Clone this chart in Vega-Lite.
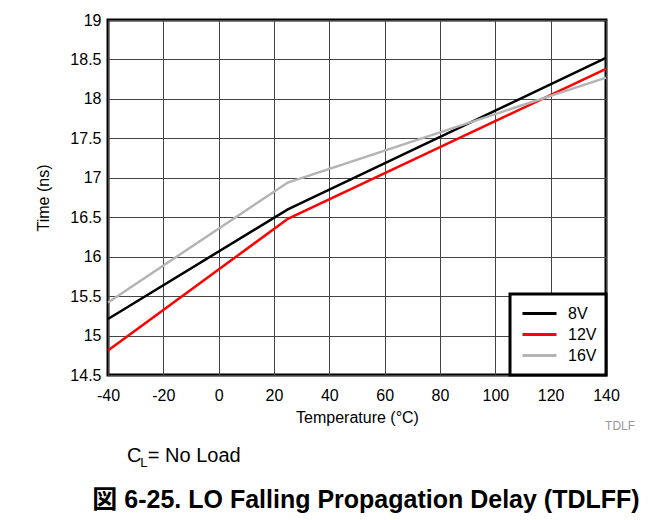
{
  "$schema": "https://vega.github.io/schema/vega-lite/v6.json",
  "width": 498,
  "height": 355,
  "autosize": {"type": "none"},
  "padding": {"left": 108, "top": 20, "right": 58, "bottom": 145},
  "background": "white",
  "title": {
    "text": "図 6-25. LO Falling Propagation Delay (TDLFF)",
    "orient": "bottom",
    "anchor": "middle",
    "dx": 9,
    "offset": 18,
    "font": "Liberation Sans, Noto Sans CJK JP",
    "fontSize": 25,
    "fontWeight": "bold",
    "color": "black"
  },
  "datasets": {
    "curves": [
      {"temp": -40, "time": 15.21, "v": "8V"},
      {"temp": 25, "time": 16.6, "v": "8V"},
      {"temp": 140, "time": 18.52, "v": "8V"},
      {"temp": -40, "time": 14.81, "v": "12V"},
      {"temp": 25, "time": 16.48, "v": "12V"},
      {"temp": 140, "time": 18.38, "v": "12V"},
      {"temp": -40, "time": 15.42, "v": "16V"},
      {"temp": 25, "time": 16.94, "v": "16V"},
      {"temp": 140, "time": 18.27, "v": "16V"}
    ],
    "notes": [
      {"temp": -33.1, "time": 13.397, "label": "C", "kind": "main"},
      {"temp": -25.6, "time": 13.397, "label": "= No Load", "kind": "main"},
      {"temp": -28.3, "time": 13.33, "label": "L", "kind": "sub"}
    ]
  },
  "layer": [
    {
      "data": {"name": "curves"},
      "mark": {"type": "line", "strokeWidth": 2.5},
      "encoding": {
        "x": {
          "field": "temp",
          "type": "quantitative",
          "scale": {"domain": [-40, 140], "nice": false},
          "axis": {"values": [-40, -20, 0, 20, 40, 60, 80, 100, 120, 140], "tickCount": 20, "title": "Temperature (°C)", "labelOverlap": false, "labelExpr": "replace(datum.label, '−', '-')"}
        },
        "y": {
          "field": "time",
          "type": "quantitative",
          "scale": {"domain": [14.5, 19], "nice": false, "zero": false},
          "axis": {"values": [14.5, 15, 15.5, 16, 16.5, 17, 17.5, 18, 18.5, 19], "tickCount": 20, "labelOverlap": false, "labelExpr": "datum.value % 1 == 0 ? format(datum.value, 'd') : format(datum.value, '.1f')", "title": "Time (ns)"}
        },
        "color": {
          "field": "v",
          "type": "nominal",
          "scale": {"domain": ["8V", "12V", "16V"], "range": ["#000000", "#ff0000", "#b4b4b4"]},
          "legend": {
            "title": null,
            "orient": "bottom-right",
            "offset": 0,
            "padding": 9,
            "fillColor": "white",
            "strokeColor": "black",
            "symbolType": "stroke",
            "symbolSize": 1156,
            "symbolStrokeWidth": 3,
            "symbolOffset": 2,
            "clipHeight": 21,
            "labelFontSize": 16,
            "labelFont": "Liberation Sans",
            "labelColor": "black",
            "labelOffset": 10,
            "rowPadding": 0,
            "encode": {"legend": {"update": {"strokeWidth": {"value": 3}}}}
          }
        }
      }
    },
    {
      "data": {"name": "notes"},
      "transform": [{"filter": "datum.kind == 'main'"}],
      "mark": {"type": "text", "align": "left", "baseline": "alphabetic", "fontSize": 20, "font": "Liberation Sans", "color": "black"},
      "encoding": {
        "x": {"field": "temp", "type": "quantitative"},
        "y": {"field": "time", "type": "quantitative"},
        "text": {"field": "label"}
      }
    },
    {
      "data": {"name": "notes"},
      "transform": [{"filter": "datum.kind == 'sub'"}],
      "mark": {"type": "text", "align": "left", "baseline": "alphabetic", "fontSize": 13, "font": "Liberation Sans", "color": "black"},
      "encoding": {
        "x": {"field": "temp", "type": "quantitative"},
        "y": {"field": "time", "type": "quantitative"},
        "text": {"field": "label"}
      }
    },
    {
      "data": {"values": [{"temp": 150.5, "time": 13.8, "label": "TDLF"}]},
      "mark": {"type": "text", "align": "right", "baseline": "alphabetic", "fontSize": 12, "font": "Liberation Sans", "color": "#999999"},
      "encoding": {
        "x": {"field": "temp", "type": "quantitative"},
        "y": {"field": "time", "type": "quantitative"},
        "text": {"field": "label"}
      }
    }
  ],
  "config": {
    "view": {"stroke": "black", "strokeWidth": 3},
    "axis": {
      "domain": false,
      "ticks": false,
      "grid": true,
      "gridColor": "#444444",
      "gridWidth": 1,
      "gridOpacity": 1,
      "labelOverlap": false,
      "labelFlush": false,
      "labelFont": "Liberation Sans",
      "labelFontSize": 16,
      "labelColor": "black",
      "titleFont": "Liberation Sans",
      "titleFontSize": 16,
      "titleFontWeight": "normal",
      "titleColor": "black"
    },
    "axisX": {"labelPadding": 12, "titlePadding": 6},
    "axisY": {"labelPadding": 7, "titlePadding": 18}
  }
}
